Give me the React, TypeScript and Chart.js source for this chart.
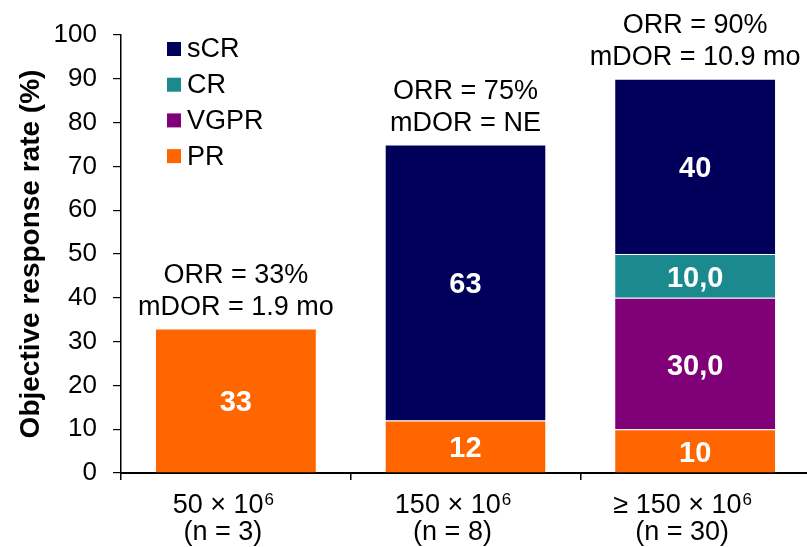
import React, { useEffect, useRef } from "react";
import { Chart, registerables } from "chart.js";

Chart.register(...registerables);

// ---- data ----
const categoryBases = ["50 × 10", "150 × 10", "≥ 150 × 10"];
const categoryExponent = "6";
const cohortSizes = ["(n = 3)", "(n = 8)", "(n = 30)"];
const orrLabels = ["ORR = 33%", "ORR = 75%", "ORR = 90%"];
const mdorLabels = ["mDOR = 1.9 mo", "mDOR = NE", "mDOR = 10.9 mo"];

const seriesNames = ["PR", "VGPR", "CR", "sCR"];
const prValues = [33, 12, 10];
const vgprValues = [null, null, 30];
const crValues = [null, null, 10];
const scrValues = [null, 63, 40];
const seriesDecimals = [0, 1, 1, 0];
const seriesColors = ["#FF6600", "#800078", "#1A8A8F", "#00005A"];

const yTitle = "Objective response rate (%)";
const yMin = 0;
const yMax = 100;
const yStep = 10;

const FONT = "'Liberation Sans', Arial, Helvetica, sans-serif";

const overlayPlugin = {
  id: "overlay",
  afterDatasetsDraw(chart: any) {
    const ctx = chart.ctx;
    const area = chart.chartArea;
    const xScale = chart.scales.x;
    const nCat = categoryBases.length;

    // segment labels
    ctx.save();
    ctx.fillStyle = "#ffffff";
    ctx.font = `bold 29px ${FONT}`;
    ctx.textAlign = "center";
    ctx.textBaseline = "middle";
    chart.data.datasets.forEach((ds: any, i: number) => {
      const meta = chart.getDatasetMeta(i);
      meta.data.forEach((el: any, j: number) => {
        const v = ds.data[j];
        if (v === null || v === undefined) return;
        const txt = seriesDecimals[i] > 0 ? v.toFixed(seriesDecimals[i]).replace(".", ",") : String(v);
        ctx.fillText(txt, el.x, (el.y + el.base) / 2 + 3);
      });
    });
    ctx.restore();

    // annotations above bars
    ctx.save();
    ctx.fillStyle = "#000000";
    ctx.font = `27px ${FONT}`;
    ctx.textAlign = "center";
    ctx.textBaseline = "middle";
    for (let j = 0; j < nCat; j++) {
      let top = Infinity;
      let cx = 0;
      chart.data.datasets.forEach((ds: any, i: number) => {
        const v = ds.data[j];
        if (v === null || v === undefined) return;
        const el = chart.getDatasetMeta(i).data[j];
        cx = el.x;
        top = Math.min(top, el.y);
      });
      ctx.fillText(orrLabels[j], cx, top - 53);
      ctx.fillText(mdorLabels[j], cx, top - 21);
    }
    ctx.restore();

    // x category labels
    ctx.save();
    ctx.fillStyle = "#000000";
    ctx.textBaseline = "alphabetic";
    for (let j = 0; j < nCat; j++) {
      const cx = xScale.getPixelForValue(j) - 13;
      ctx.font = `27px ${FONT}`;
      const w1 = ctx.measureText(categoryBases[j]).width;
      ctx.font = `17px ${FONT}`;
      const w2 = ctx.measureText(categoryExponent).width;
      const startX = cx - (w1 + w2) / 2;
      ctx.textAlign = "left";
      ctx.font = `27px ${FONT}`;
      ctx.fillText(categoryBases[j], startX, area.bottom + 40);
      ctx.font = `17px ${FONT}`;
      ctx.fillText(categoryExponent, startX + w1 + 1, area.bottom + 32);
      ctx.textAlign = "center";
      ctx.font = `27px ${FONT}`;
      ctx.fillText(cohortSizes[j], cx, area.bottom + 67);
    }
    ctx.restore();

    // legend (reverse order, inside plot)
    ctx.save();
    ctx.font = `27px ${FONT}`;
    ctx.textAlign = "left";
    ctx.textBaseline = "middle";
    const order = [3, 2, 1, 0];
    order.forEach((i, k) => {
      const cy = area.top + 14 + k * 35.7;
      ctx.fillStyle = seriesColors[i];
      ctx.fillRect(area.left + 46, cy - 7, 14, 14);
      ctx.fillStyle = "#000000";
      ctx.fillText(seriesNames[i], area.left + 66, cy + 1);
    });
    ctx.restore();
  },
};

export default function App() {
  const canvasRef = useRef<HTMLCanvasElement | null>(null);

  useEffect(() => {
    document.body.style.margin = "0";
    document.body.style.overflow = "hidden";
    const canvas = canvasRef.current;
    if (!canvas) return;
    const seriesValues = [prValues, vgprValues, crValues, scrValues];
    const chart = new Chart(canvas, {
      type: "bar",
      data: {
        labels: categoryBases.map((c, i) => [c + categoryExponent, cohortSizes[i]]),
        datasets: seriesNames.map((name, i) => ({
          label: name,
          data: seriesValues[i] as any,
          backgroundColor: seriesColors[i],
          borderColor: "rgba(255,255,255,0.7)",
          borderWidth: { top: 1, bottom: 0, left: 0, right: 0 },
          barPercentage: 0.697,
          categoryPercentage: 1,
        })),
      },
      options: {
        responsive: false,
        animation: false,
        devicePixelRatio: 1,
        layout: { padding: { top: 35, left: 0, right: 0, bottom: 0 } },
        plugins: {
          legend: { display: false },
          tooltip: { enabled: false },
          title: { display: false },
        },
        scales: {
          x: {
            stacked: true,
            grid: {
              drawOnChartArea: false,
              drawTicks: true,
              tickLength: 7,
              color: "#000000",
              lineWidth: 1.5,
              offset: true,
            },
            border: { display: true, color: "#000000", width: 2 },
            ticks: { color: "rgba(0,0,0,0)", font: { size: 12 } },
            afterFit: (scale: any) => {
              scale.height = 74;
            },
          },
          y: {
            stacked: true,
            min: yMin,
            max: yMax,
            grid: {
              drawOnChartArea: false,
              drawTicks: true,
              tickLength: 8,
              color: "#000000",
              lineWidth: 1.2,
            },
            border: { display: true, color: "#000000", width: 1.5 },
            ticks: {
              stepSize: yStep,
              color: "#000000",
              padding: 16,
              font: { family: FONT, size: 26 },
            },
            title: {
              display: true,
              text: yTitle,
              color: "#000000",
              font: { family: FONT, size: 28, weight: "bold" },
              padding: { top: 14, bottom: 0 },
            },
            afterFit: (scale: any) => {
              scale.width = 121;
            },
          },
        },
      },
      plugins: [overlayPlugin],
    });
    return () => chart.destroy();
  }, []);

  return (
    <div style={{ width: 810, height: 547, overflow: "hidden" }}>
      <canvas ref={canvasRef} width={810} height={547} />
    </div>
  );
}
